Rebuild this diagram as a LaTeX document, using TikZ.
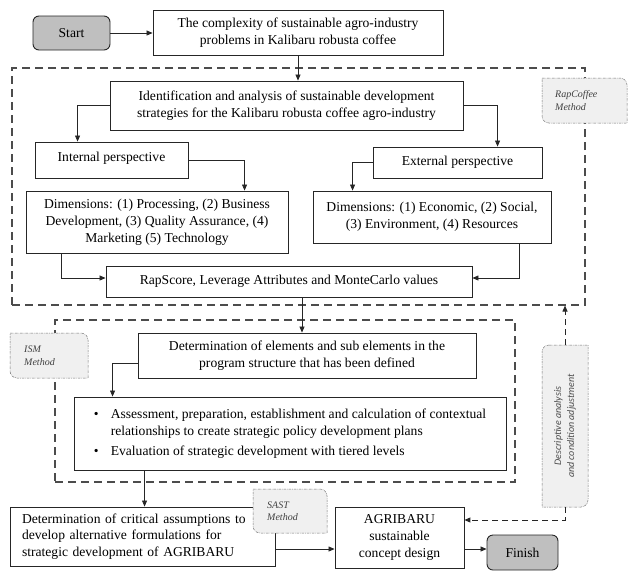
\documentclass[tikz,border=0pt]{standalone}
\usepackage{fontspec}
\setmainfont{Liberation Serif}
\newfontfamily\descfont{Carlito}
\usetikzlibrary{arrows.meta,calc}
\newcommand\mainsz{\fontsize{13.6}{16.8}\selectfont}
\newcommand\methsz{\fontsize{10}{12.5}\selectfont}
\newcommand\methodframe[1]{\filldraw[mframe] (#1.north west) -- ([xshift=-7pt]#1.north east) arc[start angle=90,end angle=0,radius=7pt] -- (#1.south east) -- ([xshift=7pt]#1.south west) arc[start angle=270,end angle=180,radius=7pt] -- cycle;}
\begin{document}
\begin{tikzpicture}[x=1pt,y=-1pt,
 box/.style={draw=black!85, line width=0.9pt, fill=white, align=center, font=\mainsz, inner sep=2pt},
 term/.style={box, fill=black!25, rounded corners=6pt},
 conn/.style={draw=black!85, line width=0.7pt, -{Triangle[length=6pt,width=5pt]}},
 grp/.style={draw=black!70, line width=1.1pt, dash pattern=on 8pt off 5pt},
 dconn/.style={conn, dash pattern=on 6pt off 4pt, line width=1pt},
 mframe/.style={draw=black!55, fill=black!6, line width=0.5pt, dash pattern=on 2.5pt off 1pt on 0.6pt off 1pt},
 mph/.style={inner sep=0pt, outer sep=0pt, draw=none},
 mtext/.style={font=\methsz\itshape, text=black!75, align=left, inner sep=0pt},
]
\useasboundingbox (0,0) rectangle (628,571);

% group frames
\node[grp, minimum width=573pt, minimum height=237pt] (grp1) at (298.5,186.5) {};
\node[grp, minimum width=460pt, minimum height=162pt] (grp2) at (285,401) {};

% process nodes
\node[term, minimum width=77pt, minimum height=34pt] (start) at (71.5,33) {Start};
\node[box, minimum width=290pt, minimum height=45pt] (complex) at (298,32.5)
 {The complexity of sustainable agro-industry\\problems in Kalibaru robusta coffee};
\node[box, minimum width=353pt, minimum height=49pt] (ident) at (286.5,105.5)
 {Identification and analysis of sustainable development\\strategies for the Kalibaru robusta coffee agro-industry};
\node[box, minimum width=153pt, minimum height=36pt, text depth=7pt] (internal) at (111.5,160) {Internal perspective};
\node[box, minimum width=169pt, minimum height=31pt] (external) at (457.5,162.5) {External perspective};
\node[box, minimum width=262pt, minimum height=62pt] (dimint) at (157,222)
 {Dimensions: (1) Processing, (2) Business\\Development, (3) Quality Assurance, (4)\\Marketing (5) Technology};
\node[box, minimum width=238pt, minimum height=52pt] (dimext) at (432,217)
 {Dimensions: (1) Economic, (2) Social,\\(3) Environment, (4) Resources};
\node[box, minimum width=366pt, minimum height=31pt] (rapscore) at (289,281.5)
 {RapScore, Leverage Attributes and MonteCarlo values};
\node[box, minimum width=338pt, minimum height=45pt] (determ) at (307,355.5)
 {Determination of elements and sub elements in the\\program structure that has been defined};
\node[box, minimum width=432pt, minimum height=73pt] (bullets) at (290,433.5)
 {\begin{tabular}{@{}p{17pt}@{}l@{}}
 \textbullet & Assessment, preparation, establishment and calculation of contextual\\
 & relationships to create strategic policy development plans\\[3pt]
 \textbullet & Evaluation of strategic development with tiered levels
 \end{tabular}};
\node[box, align=left, text width=241pt, inner xsep=12pt, minimum height=59pt] (critical) at (142.5,536.5)
 {Determination of critical assumptions to\\develop alternative formulations for\\strategic development of AGRIBARU};
\node[box, minimum width=129pt, minimum height=61pt] (agri) at (399.5,537.5)
 {AGRIBARU\\sustainable\\concept design};
\node[term, minimum width=71pt, minimum height=35pt] (finish) at (522.5,552.5) {Finish};

% connectors
\draw[conn] (start.east) -- (start.east -| complex.west);
\draw[conn] (complex.south) -- (complex.south |- ident.north);
\draw[conn] (ident.west) -| ([xshift=43pt]internal.north west);
\draw[conn] (ident.east) -| ([xshift=125pt]external.north west);
\draw[conn] (internal.east) -| ([xshift=219pt]dimint.north west);
\draw[conn] (external.west) -| ([xshift=40pt]dimext.north west);
\draw[conn] ([xshift=36pt]dimint.south west) |- ([yshift=3.5pt]rapscore.west);
\draw[conn] ([xshift=-32pt]dimext.south east) |- ([yshift=3.5pt]rapscore.east);
\draw[conn] ([xshift=13pt]rapscore.south) -- ([xshift=13pt]rapscore.south |- determ.north);
\draw[conn] ([yshift=-7.5pt]determ.west) -| ([xshift=39pt]bullets.north west);
\draw[conn] ([xshift=71pt]bullets.south west) -- ([xshift=71pt]bullets.south west |- critical.north);
\draw[conn] ([yshift=-12.5pt]critical.east) -- ([yshift=-12.5pt]critical.east -| agri.west);
\draw[conn] ([yshift=-11.5pt]agri.east) -- ([yshift=-11.5pt]agri.east -| finish.west);

% method notes
\node[mph, minimum width=85pt, minimum height=45pt] (rcmF) at (584.5,100.5) {};
\methodframe{rcmF}
\node[mtext, anchor=west] (rcm) at ([xshift=13pt]rcmF.west) {RapCoffee\\Method};

\node[mph, minimum width=78pt, minimum height=45pt] (ismF) at (49,355.5) {};
\methodframe{ismF}
\node[mtext, anchor=west] (ism) at ([xshift=14pt]ismF.west) {ISM\\Method};

\node[mph, minimum width=74pt, minimum height=44pt] (sastF) at (290,511) {};
\methodframe{sastF}
\node[mtext, anchor=west] (sast) at ([xshift=14pt]sastF.west) {SAST\\Method};

\node[mph, minimum width=46pt, minimum height=162pt] (descF) at (565,426) {};
\filldraw[mframe] ([xshift=7pt]descF.north west) -- (descF.north east) -- ([yshift=7pt]descF.south east) arc[start angle=0,end angle=-90,radius=7pt] -- (descF.south west) -- ([yshift=-7pt]descF.north west) arc[start angle=180,end angle=90,radius=7pt] -- cycle;
\node[font=\descfont\itshape\fontsize{10}{13}\selectfont, text=black!70, align=center, rotate=90, inner sep=0pt] (desc) at (descF.center) {Descriptive analysis\\and condition adjustment};

\draw[dconn] (descF.south) |- ([yshift=17.5pt]agri.east);
\draw[dconn] (descF.north) -- (descF.north |- grp1.south);
\end{tikzpicture}
\end{document}
